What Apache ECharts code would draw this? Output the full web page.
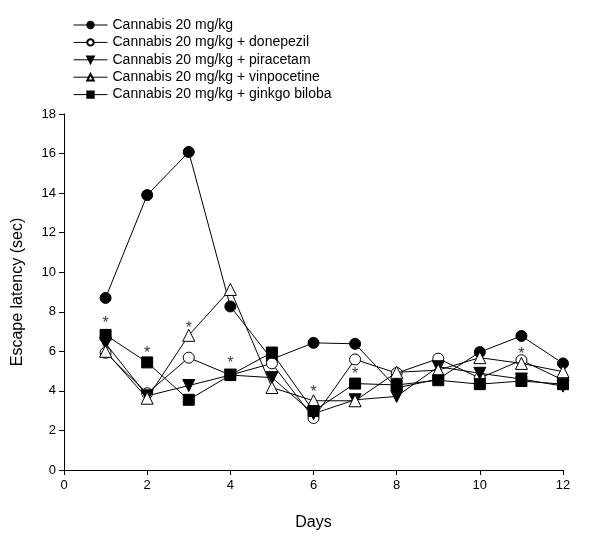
<!DOCTYPE html>
<html><head><meta charset="utf-8">
<script src="https://cdn.jsdelivr.net/npm/echarts@6/dist/echarts.min.js"></script>
<style>html,body{margin:0;padding:0;background:#fff}#c{width:591px;height:536px}</style>
</head><body><div id="c"></div>
<script>
const days = [1,2,3,4,5,6,7,8,9,10,11,12];
const seriesNames = [
  "Cannabis 20 mg/kg",
  "Cannabis 20 mg/kg + donepezil",
  "Cannabis 20 mg/kg + piracetam",
  "Cannabis 20 mg/kg + vinpocetine",
  "Cannabis 20 mg/kg + ginkgo biloba"
];
const cannabis    = [8.7, 13.9, 16.08, 8.27, 5.6, 6.43, 6.38, 4.15, 4.6, 5.96, 6.78, 5.39];
const donepezil   = [5.93, 3.88, 5.68, 4.8, 5.39, 2.63, 5.59, 4.9, 5.63, 4.65, 5.55, 4.55];
const piracetam   = [6.4, 3.75, 4.27, 4.8, 4.67, 2.85, 3.55, 3.72, 5.22, 4.89, 4.6, 4.24];
const vinpocetine = [6.0, 3.63, 6.81, 9.13, 4.17, 3.5, 3.5, 4.94, 5.05, 5.68, 5.39, 4.97];
const ginkgo      = [6.83, 5.44, 3.55, 4.8, 5.94, 2.98, 4.37, 4.3, 4.54, 4.34, 4.5, 4.34];
const asterisks   = [[1, 7.57], [2, 6.06], [3, 7.32], [4, 5.53], [6, 4.09], [7, 4.97], [11, 6.01]];
const xTicks = [0, 12, 2];
const yTicks = [0, 18, 2];

const values = [cannabis, donepezil, piracetam, vinpocetine, ginkgo];
const styles = [
  {symbol:'circle', fill:'#000', rotate:0, size:11},
  {symbol:'circle', fill:'#fff', rotate:0, size:11},
  {symbol:'triangle', fill:'#000', rotate:180, size:12},
  {symbol:'triangle', fill:'#fff', rotate:0, size:12},
  {symbol:'rect', fill:'#000', rotate:0, size:11}
];
const font = 'Liberation Sans, Arial, sans-serif';
const series = values.map((v, i) => ({
  name: seriesNames[i],
  type: 'line',
  data: days.map((d, j) => [d, v[j]]),
  symbol: styles[i].symbol,
  symbolSize: styles[i].size,
  symbolRotate: styles[i].rotate,
  showAllSymbol: true,
  lineStyle: {color:'#000', width:1},
  itemStyle: {color: styles[i].fill, borderColor:'#000', borderWidth:1},
  emphasis: {disabled:true},
  z: 2 + i
}));
series.push({
  name: 'sig',
  type: 'scatter',
  data: asterisks,
  symbolSize: 1,
  itemStyle: {color:'rgba(0,0,0,0)'},
  label: {show:true, formatter:'*', position:'inside', color:'#000', fontSize:16, fontFamily:font, offset:[0,3]},
  z: 10
});
const chart = echarts.init(document.getElementById('c'), null, {renderer:'canvas'});
chart.setOption({
  animation: false,
  backgroundColor: '#fff',
  grid: {left:64, right:28, top:114, bottom:64},
  legend: {
    data: seriesNames,
    orient: 'vertical',
    left: 73, top: 18, padding: 0,
    itemWidth: 34, itemHeight: 8, itemGap: 3.4,
    lineStyle: {width: 1, color:'#000'},
    textStyle: {fontFamily: font, fontSize: 14, color:'#000'},
    inactiveColor: '#000'
  },
  xAxis: {
    type: 'value', min: xTicks[0], max: xTicks[1], interval: xTicks[2],
    name: 'Days', nameLocation: 'middle', nameGap: 45,
    nameTextStyle: {fontFamily: font, fontSize: 16, color:'#000'},
    axisLine: {onZero:false, lineStyle:{color:'#000', width:1}},
    axisTick: {show:true, length:5, inside:false, lineStyle:{color:'#000'}},
    axisLabel: {fontFamily: font, fontSize: 13, color:'#000', margin:9},
    splitLine: {show:false}
  },
  yAxis: {
    type: 'value', min: yTicks[0], max: yTicks[1], interval: yTicks[2],
    name: 'Escape latency (sec)', nameLocation: 'middle', nameGap: 38,
    nameTextStyle: {fontFamily: font, fontSize: 16, color:'#000'},
    axisLine: {show:true, lineStyle:{color:'#000', width:1}},
    axisTick: {show:true, length:5, inside:false, lineStyle:{color:'#000'}},
    axisLabel: {fontFamily: font, fontSize: 13, color:'#000', margin:8},
    splitLine: {show:false}
  },
  series: series
});
</script></body></html>
